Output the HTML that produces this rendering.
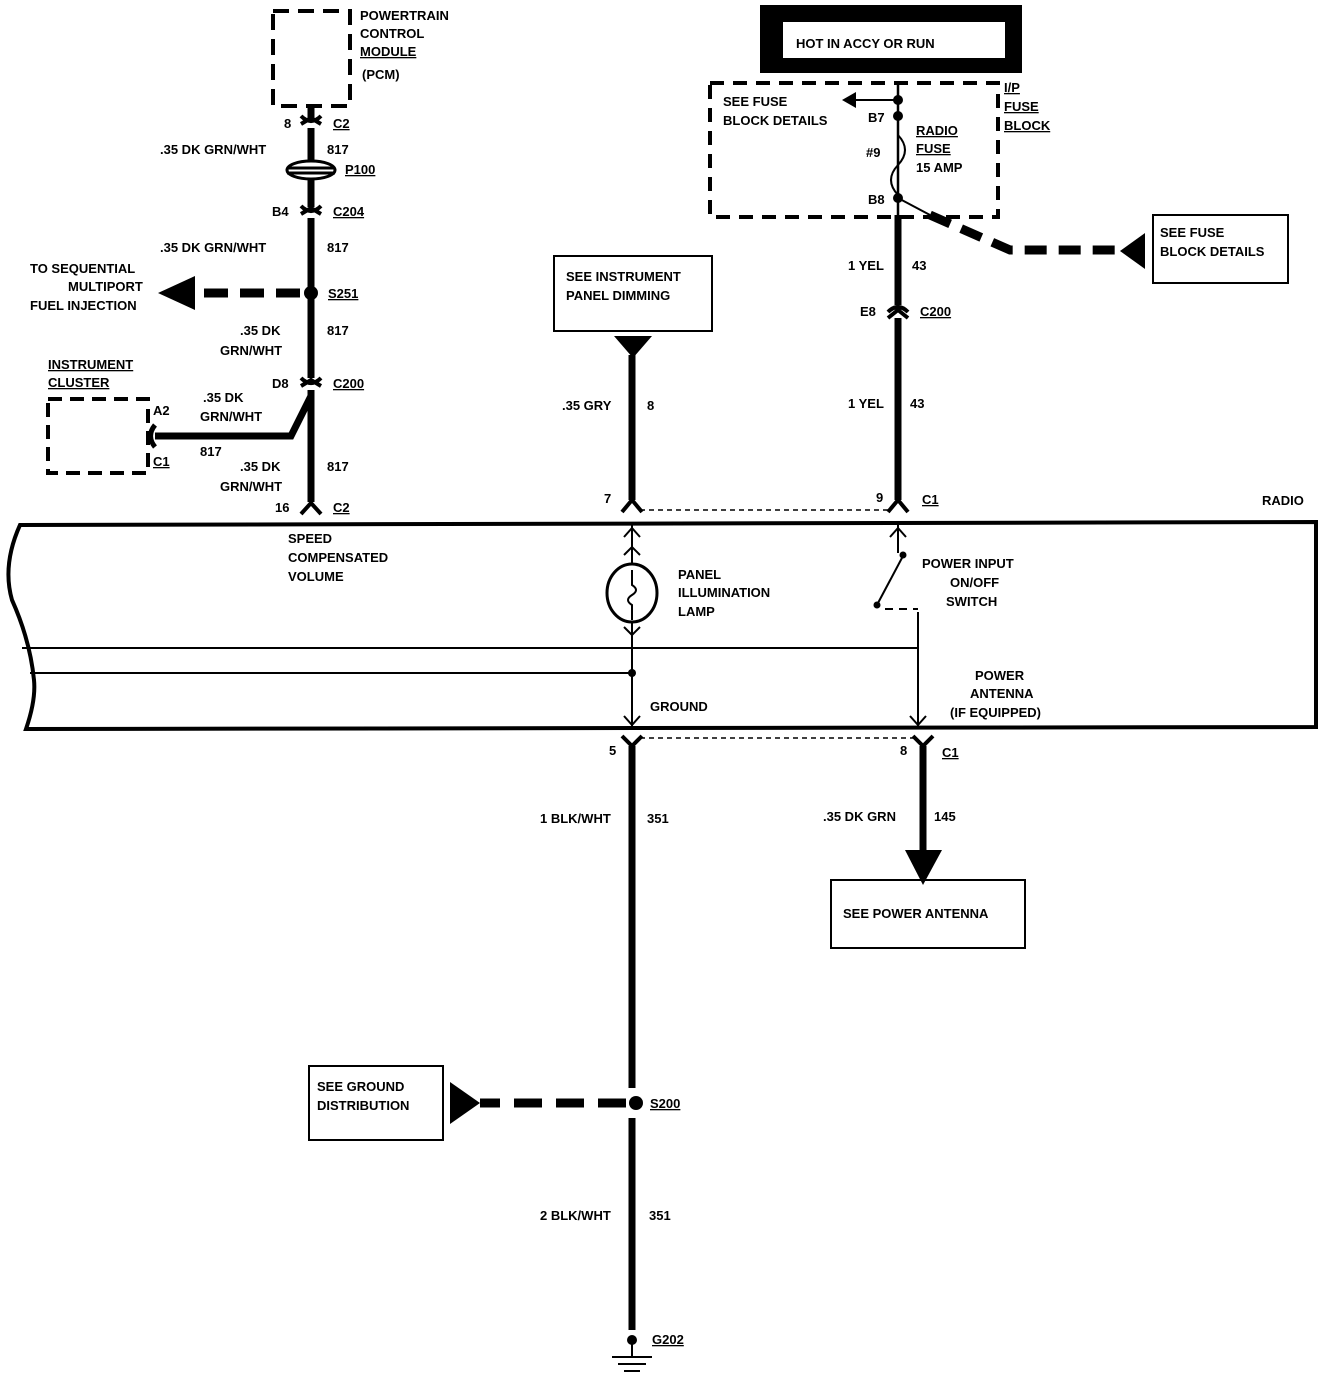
<!DOCTYPE html>
<html><head><meta charset="utf-8"><style>
html,body{margin:0;padding:0;background:#fff}
svg{display:block}
text{font-family:"Liberation Sans",sans-serif;font-weight:bold;font-size:13px;fill:#000}
</style></head><body>
<svg width="1344" height="1378" viewBox="0 0 1344 1378" xmlns="http://www.w3.org/2000/svg">
<g fill="none" stroke="#000">
<rect x="273" y="11" width="77" height="95" stroke-width="4" stroke-dasharray="16,9"/>
<line x1="311" y1="106" x2="311" y2="118" stroke-width="7"/>
<line x1="311" y1="128" x2="311" y2="160" stroke-width="7"/>
<line x1="311" y1="180" x2="311" y2="207" stroke-width="7"/>
<line x1="311" y1="218" x2="311" y2="378" stroke-width="7"/>
<line x1="311" y1="390" x2="311" y2="502" stroke-width="7"/>
<path d="M301 116 Q311 126 321 116 M301 124 L311 118 L321 124" stroke-width="4"/>
<path d="M301 206 Q311 216 321 206 M301 214 L311 208 L321 214" stroke-width="4"/>
<path d="M301 378 Q311 388 321 378 M301 386 L311 380 L321 386" stroke-width="4"/>
<path d="M301 514 L311 503 L321 514" stroke-width="4"/>
<ellipse cx="311" cy="170" rx="24" ry="9" stroke-width="3"/>
<line x1="287" y1="168" x2="335" y2="168" stroke-width="3"/>
<line x1="287" y1="173" x2="335" y2="173" stroke-width="3"/>
<path d="M300 293 L195 293" stroke-width="9" stroke-dasharray="24,12"/>
<rect x="48" y="399" width="100" height="74" stroke-width="4" stroke-dasharray="14,8"/>
<path d="M155 425 Q146 436 155 447" stroke-width="5"/>
<path d="M155 436 L291 436 L311 396" stroke-width="7"/>
<line x1="632" y1="355" x2="632" y2="500" stroke-width="7"/>
<path d="M622 512 L632 500 L642 512" stroke-width="4"/>
<rect x="554" y="256" width="158" height="75" stroke-width="2"/>
<line x1="898" y1="82" x2="898" y2="215" stroke-width="2.5"/>
<line x1="898" y1="215" x2="898" y2="305" stroke-width="7"/>
<line x1="898" y1="318" x2="898" y2="500" stroke-width="7"/>
<path d="M888 312 Q898 302 908 312 M888 318 L898 310 L908 318" stroke-width="4"/>
<path d="M888 512 L898 500 L908 512" stroke-width="4"/>
<line x1="640" y1="510" x2="890" y2="510" stroke-width="1.5" stroke-dasharray="5,4"/>
<rect x="760" y="5" width="262" height="68" fill="#000" stroke="none"/>
<rect x="783" y="22" width="222" height="36" fill="#fff" stroke="none"/>
<rect x="710" y="83" width="288" height="134" stroke-width="4" stroke-dasharray="14,9"/>
<path d="M898 100 L850 100" stroke-width="2"/>
<path d="M898 118 L898 135 Q912 150 898 165 Q884 180 898 195" stroke-width="2"/>
<path d="M898 198 L930 215" stroke-width="2"/>
<path d="M930 215 L1010 250 L1120 250" stroke-width="9" stroke-dasharray="22,12"/>
<rect x="1153" y="215" width="135" height="68" stroke-width="2"/>
<path d="M20 525 L1316 522 L1316 727 L26 729 Q36 700 34 680 Q30 640 12 600 Q2 565 20 525 Z" stroke-width="4"/>
<line x1="22" y1="648" x2="918" y2="648" stroke-width="2"/>
<line x1="30" y1="673" x2="632" y2="673" stroke-width="2"/>
<line x1="632" y1="525" x2="632" y2="565" stroke-width="2"/>
<path d="M624 537 L632 528 L640 537 M624 555 L632 547 L640 555" stroke-width="2"/>
<ellipse cx="632" cy="593" rx="25" ry="29" stroke-width="3"/>
<path d="M632 570 L632 585 Q640 590 632 595 Q624 600 632 605 L632 620" stroke-width="2"/>
<line x1="632" y1="622" x2="632" y2="727" stroke-width="2"/>
<path d="M624 627 L632 635 L640 627 M624 716 L632 725 L640 716" stroke-width="2"/>
<line x1="898" y1="525" x2="898" y2="553" stroke-width="2"/>
<path d="M890 537 L898 528 L906 537" stroke-width="2"/>
<line x1="903" y1="556" x2="878" y2="603" stroke-width="2"/>
<line x1="885" y1="609" x2="918" y2="609" stroke-width="2" stroke-dasharray="8,6"/>
<line x1="918" y1="612" x2="918" y2="727" stroke-width="2"/>
<path d="M910 716 L918 725 L926 716" stroke-width="2"/>
<line x1="640" y1="738" x2="915" y2="738" stroke-width="1.5" stroke-dasharray="5,4"/>
<path d="M622 736 L632 746 L642 736" stroke-width="4"/>
<path d="M913 736 L923 746 L933 736" stroke-width="4"/>
<line x1="632" y1="746" x2="632" y2="1088" stroke-width="7"/>
<line x1="632" y1="1118" x2="632" y2="1330" stroke-width="7"/>
<line x1="923" y1="746" x2="923" y2="852" stroke-width="7"/>
<rect x="831" y="880" width="194" height="68" stroke-width="2"/>
<path d="M626 1103 L480 1103" stroke-width="9" stroke-dasharray="28,14"/>
<rect x="309" y="1066" width="134" height="74" stroke-width="2"/>
<line x1="632" y1="1340" x2="632" y2="1357" stroke-width="2"/>
<line x1="612" y1="1357" x2="652" y2="1357" stroke-width="2"/>
<line x1="618" y1="1364" x2="646" y2="1364" stroke-width="2"/>
<line x1="624" y1="1371" x2="640" y2="1371" stroke-width="2"/>
</g>
<g fill="#000">
<circle cx="311" cy="293" r="7"/>
<polygon points="158,293 195,276 195,310"/>
<polygon points="614,336 652,336 633,358"/>
<circle cx="898" cy="100" r="5"/><circle cx="898" cy="116" r="5"/><circle cx="898" cy="198" r="5"/>
<polygon points="842,100 856,92 856,108"/>
<polygon points="1120,251 1145,233 1145,269"/>
<circle cx="903" cy="555" r="3.5"/><circle cx="877" cy="605" r="3.5"/>
<circle cx="632" cy="673" r="4"/>
<polygon points="905,850 942,850 923,885"/>
<circle cx="636" cy="1103" r="7"/>
<polygon points="450,1082 450,1124 480,1103"/>
<circle cx="632" cy="1340" r="5"/>
</g>
<g>
<text x="360" y="20">POWERTRAIN</text>
<text x="360" y="38">CONTROL</text>
<text x="360" y="56" text-decoration="underline">MODULE</text>
<text x="362" y="79">(PCM)</text>
<text x="284" y="128">8</text><text x="333" y="128" text-decoration="underline">C2</text>
<text x="160" y="154">.35 DK GRN/WHT</text><text x="327" y="154">817</text>
<text x="345" y="174" text-decoration="underline">P100</text>
<text x="272" y="216">B4</text><text x="333" y="216" text-decoration="underline">C204</text>
<text x="160" y="252">.35 DK GRN/WHT</text><text x="327" y="252">817</text>
<text x="30" y="273">TO SEQUENTIAL</text>
<text x="68" y="291">MULTIPORT</text>
<text x="30" y="310">FUEL INJECTION</text>
<text x="328" y="298" text-decoration="underline">S251</text>
<text x="240" y="335">.35 DK</text><text x="220" y="355">GRN/WHT</text><text x="327" y="335">817</text>
<text x="48" y="369" text-decoration="underline">INSTRUMENT</text>
<text x="48" y="387" text-decoration="underline">CLUSTER</text>
<text x="272" y="388">D8</text><text x="333" y="388" text-decoration="underline">C200</text>
<text x="203" y="402">.35 DK</text><text x="200" y="421">GRN/WHT</text><text x="200" y="456">817</text>
<text x="153" y="415">A2</text><text x="153" y="466" text-decoration="underline">C1</text>
<text x="240" y="471">.35 DK</text><text x="220" y="491">GRN/WHT</text><text x="327" y="471">817</text>
<text x="275" y="512">16</text><text x="333" y="512" text-decoration="underline">C2</text>
<text x="288" y="543">SPEED</text><text x="288" y="562">COMPENSATED</text><text x="288" y="581">VOLUME</text>
<text x="566" y="281">SEE INSTRUMENT</text><text x="566" y="300">PANEL DIMMING</text>
<text x="562" y="410">.35 GRY</text><text x="647" y="410">8</text>
<text x="604" y="503">7</text>
<text x="796" y="48">HOT IN ACCY OR RUN</text>
<text x="723" y="106">SEE FUSE</text><text x="723" y="125">BLOCK DETAILS</text>
<text x="868" y="122">B7</text><text x="866" y="157">#9</text><text x="868" y="204">B8</text>
<text x="916" y="135" text-decoration="underline">RADIO</text>
<text x="916" y="153" text-decoration="underline">FUSE</text>
<text x="916" y="172">15  AMP</text>
<text x="1004" y="92" text-decoration="underline">I/P</text>
<text x="1004" y="111" text-decoration="underline">FUSE</text>
<text x="1004" y="130" text-decoration="underline">BLOCK</text>
<text x="1160" y="237">SEE  FUSE</text><text x="1160" y="256">BLOCK  DETAILS</text>
<text x="848" y="270">1 YEL</text><text x="912" y="270">43</text>
<text x="860" y="316">E8</text><text x="920" y="316" text-decoration="underline">C200</text>
<text x="848" y="408">1 YEL</text><text x="910" y="408">43</text>
<text x="876" y="502">9</text><text x="922" y="504" text-decoration="underline">C1</text>
<text x="1262" y="505">RADIO</text>
<text x="678" y="579">PANEL</text><text x="678" y="597">ILLUMINATION</text><text x="678" y="616">LAMP</text>
<text x="922" y="568">POWER INPUT</text><text x="950" y="587">ON/OFF</text><text x="946" y="606">SWITCH</text>
<text x="975" y="680">POWER</text><text x="970" y="698">ANTENNA</text><text x="950" y="717">(IF EQUIPPED)</text>
<text x="650" y="711">GROUND</text>
<text x="609" y="755">5</text><text x="900" y="755">8</text><text x="942" y="757" text-decoration="underline">C1</text>
<text x="540" y="823">1 BLK/WHT</text><text x="647" y="823">351</text>
<text x="823" y="821">.35 DK GRN</text><text x="934" y="821">145</text>
<text x="843" y="918">SEE POWER ANTENNA</text>
<text x="317" y="1091">SEE GROUND</text><text x="317" y="1110">DISTRIBUTION</text>
<text x="650" y="1108" text-decoration="underline">S200</text>
<text x="540" y="1220">2 BLK/WHT</text><text x="649" y="1220">351</text>
<text x="652" y="1344" text-decoration="underline">G202</text>
</g>
</svg>
</body></html>
